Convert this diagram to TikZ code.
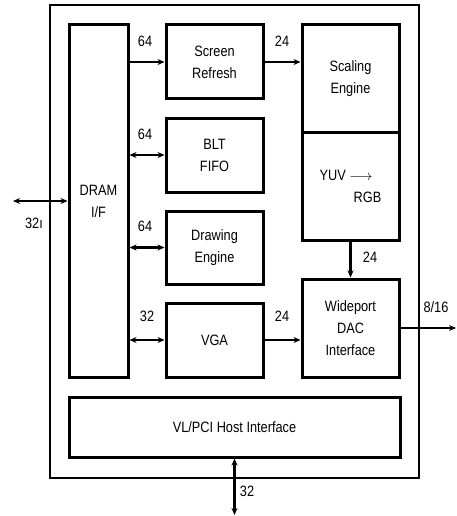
\documentclass[tikz,border=0pt]{standalone}
\usepackage{fontspec}
\setmainfont[FakeStretch=0.85]{Liberation Sans}
\usetikzlibrary{arrows.meta}
\begin{document}
\begin{tikzpicture}[x=1pt,y=-1pt,
  box/.style={draw,line width=3pt,rectangle,align=center,inner sep=0pt,font=\fontsize{15}{22}\selectfont},
  lbl/.style={font=\fontsize{15}{18}\selectfont,inner sep=0pt},
  conn/.style={line width=2.6pt,-{Stealth[length=7pt,width=6pt]}},
  bconn/.style={line width=2.6pt,{Stealth[length=7pt,width=6pt]}-{Stealth[length=7pt,width=6pt]}}]
\useasboundingbox (0,0) rectangle (456,516);
\node[draw,line width=2.8pt,minimum width=369pt,minimum height=473pt,inner sep=0pt] (outer) at (234.5,241.5) {};
\node[box,minimum width=59pt,minimum height=352pt] (dram) at (98.5,201) {DRAM\\I/F};
\node[box,minimum width=97pt,minimum height=74pt] (sr) at (214.5,62) {Screen\\Refresh};
\node[box,minimum width=97pt,minimum height=74pt] (blt) at (214.5,155) {BLT\\FIFO};
\node[box,minimum width=97pt,minimum height=73pt] (de) at (214.5,247.5) {Drawing\\Engine};
\node[box,minimum width=97pt,minimum height=74pt] (vga) at (214.5,340) {VGA};
\node[box,minimum width=97pt,minimum height=107pt] (scale) at (350.5,78.5) {Scaling\\Engine};
\node[box,minimum width=97pt,minimum height=108pt,align=left] (yuv) at (350.5,186) {YUV $\longrightarrow$\\\hspace*{34pt}RGB};
\node[box,minimum width=97pt,minimum height=98pt] (wide) at (350.5,328) {Wideport\\DAC\\Interface};
\node[box,minimum width=331pt,minimum height=60pt] (host) at (234.5,427) {VL/PCI Host Interface};
\coordinate (lft) at (13,201);
\coordinate (out) at (456,328);
\coordinate (bot) at (234.5,515);
\draw[conn] (dram.east |- sr.west) -- (sr.west);
\draw[conn] (sr.east) -- (sr.east -| scale.west);
\draw[bconn] (dram.east |- blt.west) -- (blt.west);
\draw[bconn] (dram.east |- de.west) -- (de.west);
\draw[bconn] (dram.east |- vga.west) -- (vga.west);
\draw[conn] (vga.east) -- (vga.east -| wide.west);
\draw[conn] (yuv.south) -- (wide.north);
\draw[conn] (wide.east) -- (out);
\draw[bconn] (lft) -- (dram.west);
\draw[bconn] (bot) -- (host.south);
\node[lbl] (l1) at (145,41) {64};
\node[lbl] (l2) at (282,41) {24};
\node[lbl] (l3) at (145,134) {64};
\node[lbl] (l4) at (145,226) {64};
\node[lbl] (l5) at (147,316) {32};
\node[lbl] (l6) at (282,316) {24};
\node[lbl] (l7) at (370,257) {24};
\node[lbl] (l8) at (436,307) {8/16};
\node[lbl] (l9) at (34,223) {32ı};
\node[lbl] (l10) at (247,491) {32};
\end{tikzpicture}
\end{document}
